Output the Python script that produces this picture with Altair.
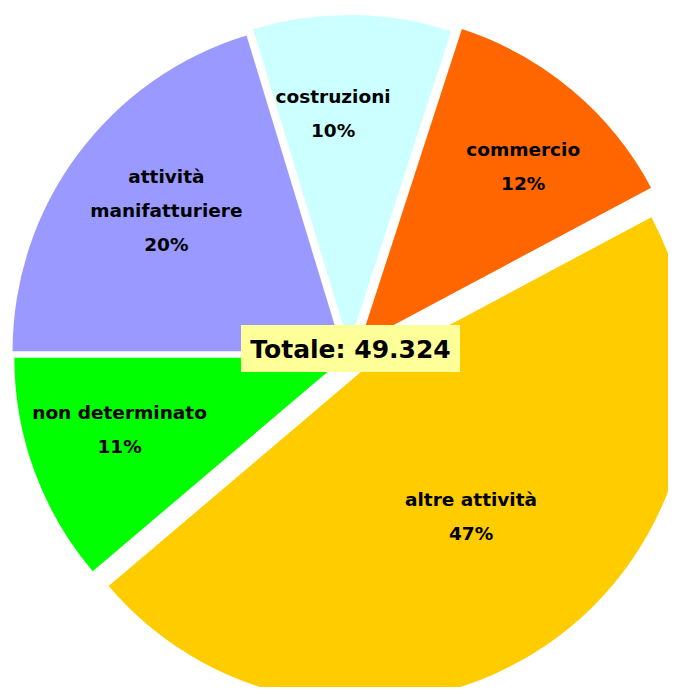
import altair as alt
import pandas as pd

# ---- data ----
categories = ["commercio", "altre attività", "non determinato",
              "attività manifatturiere", "costruzioni"]
label_names = ["commercio", "altre attività", "non determinato",
               "attività\nmanifatturiere", "costruzioni"]
# shares in % (slice angles; labels show them rounded)
share = [12.2, 46.6, 11.2, 20.3, 9.7]
total_label = "Totale: 49.324"

# ---- styles ----
colors = ["#FF6600", "#FFCC00", "#00FF00", "#9999FF", "#CCFFFF"]
explode = {"commercio": 17, "altre attività": 20, "non determinato": 5,
           "attività manifatturiere": 8, "costruzioni": 11}
# label placement: distance from slice apex and angular nudge (degrees)
label_dist = {"commercio": 240, "altre attività": 182, "non determinato": 236,
              "attività manifatturiere": 225, "costruzioni": 232}
label_turn = {"commercio": 2.9, "altre attività": -3.3, "non determinato": 2.4,
              "attività manifatturiere": 1.9, "costruzioni": -4.5}
FONT = "DejaVu Sans"
LH = 34
W, H = 660, 679
CX, CY, R = 341, 348, 330
START_DEG = 18.0  # first slice (commercio) starts at 18 deg clockwise from 12 o'clock

df = pd.DataFrame({
    "cat": categories,
    "name": label_names,
    "value": share,
    "order": list(range(len(categories))),
})
df["ex"] = df["cat"].map(explode)
df["ld"] = df["cat"].map(label_dist)
df["lt"] = df["cat"].map(label_turn)
df["nl"] = [n.count("\n") + 2 for n in label_names]

base = alt.Chart(df).transform_joinaggregate(
    total="sum(value)"
).transform_window(
    cum="sum(value)", sort=[alt.SortField("order")]
).transform_calculate(
    t0=f"PI*{START_DEG}/180 + 2*PI*(datum.cum - datum.value)/datum.total",
    t1=f"PI*{START_DEG}/180 + 2*PI*datum.cum/datum.total",
).transform_calculate(
    mid="(datum.t0 + datum.t1)/2"
).transform_calculate(
    px=f"{CX} + datum.ex*sin(datum.mid)",
    py=f"{CY} - datum.ex*cos(datum.mid)",
    la="datum.mid + PI*datum.lt/180",
).transform_calculate(
    lx="datum.px + datum.ld*sin(datum.la)",
    ly=f"datum.py - datum.ld*cos(datum.la) - (datum.nl - 1)*{LH}/2",
    label="datum.name + '\\n' + round(datum.value) + '%'",
)

arcs = base.mark_arc(radius=R, stroke=None).encode(
    x=alt.X("px:Q", scale=None, axis=None),
    y=alt.Y("py:Q", scale=None, axis=None),
    theta=alt.Theta("t0:Q", scale=None, stack=None),
    theta2="t1:Q",
    color=alt.Color("cat:N", scale=alt.Scale(domain=categories, range=colors), legend=None),
)

labels = base.mark_text(
    font=FONT, fontSize=18.5, fontWeight="bold", color="black",
    align="center", baseline="middle", lineBreak="\n", lineHeight=LH,
).encode(
    x=alt.X("lx:Q", scale=None, axis=None),
    y=alt.Y("ly:Q", scale=None, axis=None),
    text="label:N",
)

tot_df = pd.DataFrame({"t": [total_label]})
BX, BY, BW, BH = 342.5, 340.5, 219, 47
box = alt.Chart(tot_df).mark_rect(color="#FFFF99").encode(
    x=alt.value(BX - BW / 2), x2=alt.value(BX + BW / 2),
    y=alt.value(BY - BH / 2), y2=alt.value(BY + BH / 2),
)
box_text = alt.Chart(tot_df).mark_text(
    font=FONT, fontSize=25, fontWeight="bold", color="black",
    align="center", baseline="middle",
).encode(x=alt.value(BX), y=alt.value(BY + 1), text="t:N")

chart = alt.layer(arcs, labels, box, box_text).properties(
    width=W, height=H, padding=0,
    autosize=alt.AutoSizeParams(type="none"),
    background="white",
).configure_view(stroke=None)

chart.save("out.html", embed_options={"renderer": "svg", "actions": False})
